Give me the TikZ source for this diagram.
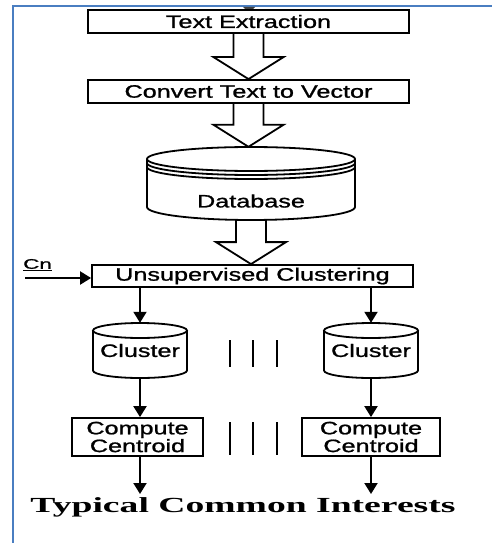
\documentclass[tikz,border=0pt]{standalone}
\usepackage{graphicx}
\usepackage{fontspec}
\setmainfont{Liberation Sans}
\newfontface\lblface{Liberation Sans}[FakeBold=1]
\newfontfamily\serifbold{Liberation Serif}
\usetikzlibrary{arrows.meta,calc}
\definecolor{frameblue}{RGB}{74,126,193}
\newcommand{\lbl}[1]{\scalebox{1.4}[1]{\lblface\fontsize{18}{18}\selectfont #1}}
\newcommand{\hollowarrow}[2]{%
  \draw[hol] let \p1=(#1), \p2=(#2) in
    (\x1-15pt,\y1) -- (\x1-15pt,\y2+22pt) -- (\x1-35pt,\y2+22pt) -- (\x1,\y2)
    -- (\x1+35pt,\y2+22pt) -- (\x1+15pt,\y2+22pt) -- (\x1+15pt,\y1);}
\newcommand{\smallcyl}[1]{%
  \draw[lw] (#1,330.5) ellipse [x radius=47pt, y radius=7.5pt];
  \draw[lw] (#1-47,330.5) -- (#1-47,370.5)
    arc[start angle=180, end angle=360, x radius=47pt, y radius=7.5pt] -- (#1+47,330.5);}
\begin{document}
\begin{tikzpicture}[x=1pt,y=-1pt,
  lw/.style={line width=1.8pt},
  box/.style={draw, line width=1.8pt, inner sep=0pt},
  hol/.style={line width=1.8pt, line join=miter},
  arr/.style={line width=2pt, -{Triangle[length=11pt,width=13pt]}},
  bar/.style={line width=2.6pt}]
\useasboundingbox (0,0) rectangle (492,543);
% frame
\draw[frameblue, line width=2.5pt] (492,6) -- (13,6) -- (13,543);
\fill[black!75] (243,7) -- (255,7) -- (252,10) -- (246,10) -- cycle;
% boxes
\node[box, minimum width=321pt, minimum height=23pt] (te) at (248.5,21.5) {\lbl{Text Extraction}};
\node[box, minimum width=321pt, minimum height=23pt] (cv) at (248.5,91.5) {\lbl{Convert Text to Vector}};
\node[box, minimum width=321pt, minimum height=22pt] (uc) at (252.5,276) {\lbl{Unsupervised Clustering}};
% database
\node[minimum width=208pt, minimum height=73pt, inner sep=0pt] (db) at (251,183.5) {};
\draw[lw] (251,159) ellipse [x radius=104pt, y radius=12pt];
\draw[lw] (147,159) -- (147,207)
  arc[start angle=180, end angle=360, x radius=104pt, y radius=13pt] -- (355,159);
\draw[lw] (147,163) arc[start angle=180, end angle=360, x radius=104pt, y radius=12pt];
\draw[lw] (147,167) arc[start angle=180, end angle=360, x radius=104pt, y radius=12pt];
\node (dbt) at (251,201) {\lbl{Database}};
% hollow arrows
\hollowarrow{te.south}{cv.north}
\hollowarrow{cv.south}{db.north}
\hollowarrow{db.south}{uc.north}
% Cn
\node[inner sep=0pt] (cn) at (37.5,265) {\scalebox{1.6}[1]{\lblface\fontsize{14}{14}\selectfont\underline{Cn}}};
\coordinate (cnin) at (25,278);
\draw[arr] (cnin) -- (cnin -| uc.west);
% clusters
\smallcyl{140}
\smallcyl{371}
\node[minimum width=94pt, minimum height=55pt, inner sep=0pt] (c1) at (140,350.5) {\lbl{Cluster}};
\node[minimum width=94pt, minimum height=55pt, inner sep=0pt] (c2) at (371,350.5) {\lbl{Cluster}};
\draw[arr] (uc.south -| c1.north) -- (c1.north);
\draw[arr] (uc.south -| c2.north) -- (c2.north);
% compute centroid
\node[box, minimum width=131pt, minimum height=38pt, align=center, font=\fontsize{18}{16}\selectfont] (cc1) at (137.5,437)
  {\lbl{Compute}\\\lbl{Centroid}};
\node[box, minimum width=138pt, minimum height=38pt, align=center, font=\fontsize{18}{16}\selectfont] (cc2) at (371,437)
  {\lbl{Compute}\\\lbl{Centroid}};
\draw[arr] (c1.south) -- (c1.south |- cc1.north);
\draw[arr] (c2.south) -- (c2.south |- cc2.north);
\coordinate (e1) at (140,494);
\coordinate (e2) at (371,494);
\draw[arr] (cc1.south -| e1) -- (e1);
\draw[arr] (cc2.south -| e2) -- (e2);
% bars
\foreach \bx in {230,253,277} {
  \draw[bar] (\bx,340) -- (\bx,367);
  \draw[bar] (\bx,422) -- (\bx,455);
}
% bottom text
\node (tci) at (243,507) {\scalebox{1.75}[1]{\serifbold\bfseries\fontsize{21.5}{22}\selectfont Typical Common Interests}};
\end{tikzpicture}
\end{document}
